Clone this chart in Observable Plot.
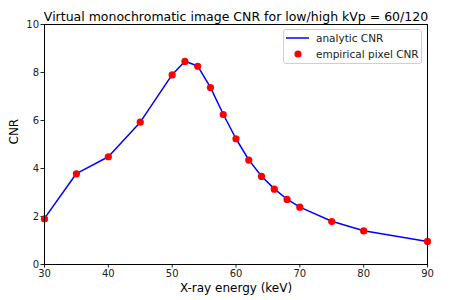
<!DOCTYPE html>
<html>
<head>
<meta charset="utf-8">
<script src="https://cdn.jsdelivr.net/npm/d3@7"></script>
<script src="https://cdn.jsdelivr.net/npm/@observablehq/plot@0.6"></script>
<style>
  body { margin: 0; background: white; font-family: "DejaVu Sans", sans-serif; }
  #wrap { position: relative; width: 450px; height: 300px; }
  #legend { position: absolute; left: 283px; top: 29px; width: 137px; height: 33px;
    border: 1px solid #d0d0d0; border-radius: 3px; background: rgba(255,255,255,0.8);
    font-size: 10.5px; color: #222; white-space: nowrap; }
  .row { position: absolute; left: 0; height: 16px; display: flex; align-items: center; }
  .sw { width: 23px; display: flex; justify-content: center; margin-left: 2px; }
  .txt { margin-left: 7px; }
</style>
</head>
<body>
<div id="wrap"></div>
<script>
const title = "Virtual monochromatic image CNR for low/high kVp = 60/120";
const xLabel = "X-ray energy (keV)";
const yLabel = "CNR";
const seriesNames = ["analytic CNR", "empirical pixel CNR"];
const energies = [30, 35, 40, 45, 50, 52, 54, 56, 58, 60, 62, 64, 66, 68, 70, 75, 80, 90];
const analyticCNR = [1.92, 3.79, 4.49, 5.93, 7.91, 8.47, 8.27, 7.38, 6.26, 5.24, 4.36, 3.68, 3.15, 2.72, 2.39, 1.80, 1.41, 0.96];
const empiricalCNR = [1.90, 3.78, 4.49, 5.93, 7.90, 8.46, 8.26, 7.37, 6.25, 5.24, 4.35, 3.67, 3.14, 2.71, 2.39, 1.79, 1.40, 0.96];
const xTicks = [30, 40, 50, 60, 70, 80, 90];
const yTicks = [0, 2, 4, 6, 8, 10];

const lineData = energies.map((e, i) => ({x: e, y: analyticCNR[i]}));
const dotData = energies.map((e, i) => ({x: e, y: empiricalCNR[i]}));

const chart = Plot.plot({
  width: 450, height: 300,
  marginTop: 24, marginBottom: 36, marginLeft: 44, marginRight: 23,
  style: {fontFamily: "DejaVu Sans, sans-serif", fontSize: "10px", color: "#222", background: "white"},
  x: {domain: [30, 90]},
  y: {domain: [0, 10]},
  marks: [
    Plot.axisX({ticks: xTicks, tickSize: 3.5, tickPadding: 2, label: null, fontSize: 10}),
    Plot.axisY({ticks: yTicks, tickSize: 3.5, tickPadding: 2, label: null, fontSize: 10}),
    Plot.line(lineData, {x: "x", y: "y", stroke: "#0000ff", strokeWidth: 1.5}),
    Plot.dot(dotData, {x: "x", y: "y", fill: "#ff0000", r: 3.6}),
    Plot.frame({stroke: "black", strokeWidth: 1}),
    Plot.text([title], {frameAnchor: "top", dy: -12, text: d => d, fontSize: 12.5, fill: "black"}),
    Plot.text([xLabel], {frameAnchor: "bottom", dy: 27, text: d => d, fontSize: 12, fill: "black"}),
    Plot.text([yLabel], {frameAnchor: "left", dx: -30, rotate: -90, text: d => d, fontSize: 12, fill: "black"})
  ]
});
const wrap = document.getElementById("wrap");
wrap.appendChild(chart);

const legend = document.createElement("div");
legend.id = "legend";
legend.innerHTML = `
  <div class="row" style="top:0px"><div class="sw"><svg width="23" height="4"><line x1="0" y1="2" x2="23" y2="2" stroke="#0000ff" stroke-width="1.5"/></svg></div><span class="txt">${seriesNames[0]}</span></div>
  <div class="row" style="top:16px"><div class="sw"><svg width="8" height="8"><circle cx="4" cy="4" r="3.6" fill="#ff0000"/></svg></div><span class="txt">${seriesNames[1]}</span></div>`;
wrap.appendChild(legend);
</script>
</body>
</html>
